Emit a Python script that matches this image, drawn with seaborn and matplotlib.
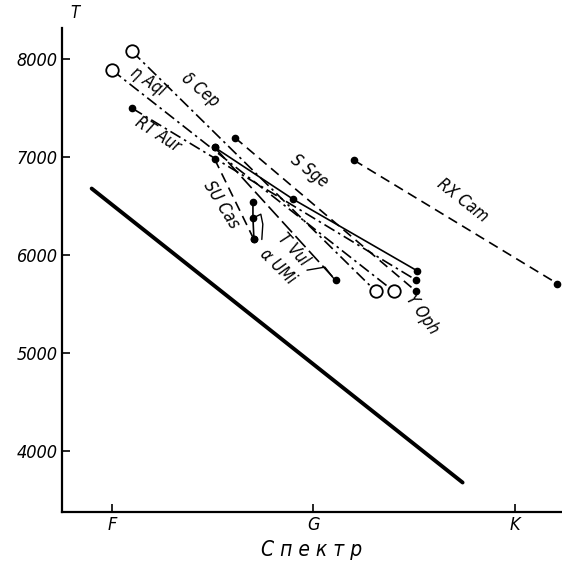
import numpy as np
import pandas as pd
import matplotlib
matplotlib.use("Agg")
import matplotlib.pyplot as plt
import seaborn as sns

# Cepheids: spectral class vs. temperature
# spectral axis: F0 = 0, G0 = 10, K0 = 20 (subclasses)

spec_ticks = [0, 10, 20]
spec_labels = ["F", "G", "K"]
temp_ticks = [4000, 5000, 6000, 7000, 8000]

dcep_sp = [1.0, 13.1]
dcep_T = [8080, 5630]
etaaql_sp = [0.0, 14.0]
etaaql_T = [7890, 5630]
rtaur_sp = [1.0, 15.1]
rtaur_T = [7500, 5745]
ssge_sp = [5.1, 9.0, 15.15]
ssge_T = [7100, 6570, 5840]
yoph_sp = [6.1, 15.1]
yoph_T = [7200, 5630]
tvul_sp = [5.1, 11.1]
tvul_T = [7100, 5745]
sucas_sp = [5.1, 7.05]
sucas_T = [6980, 6160]
aumi_sp = [7.0, 7.0, 7.05]
aumi_T = [6540, 6380, 6160]
rxcam_sp = [12.0, 22.1]
rxcam_T = [6970, 5710]
edge_sp = [-1.0, 17.4]
edge_T = [6680, 3680]

sns.set_style("ticks")
plt.rcParams['font.family'] = ['DejaVu Sans']
plt.rcParams['font.style'] = 'italic'
plt.rcParams['font.stretch'] = 'condensed'
for key in ['text.color', 'axes.labelcolor', 'xtick.color', 'ytick.color', 'axes.edgecolor']:
    plt.rcParams[key] = 'black'

fig = plt.figure(figsize=(5.62, 5.64), dpi=100)
ax = fig.add_axes([0.110, 0.092, 0.890, 0.858])

dashed = (0, (6, 3.5))
dashdot = (0, (7, 2.5, 1.5, 2.5))
longdash = (0, (9, 3))

stars = [
    ("δ Cep", dcep_sp, dcep_T, dashdot, "open"),
    ("η Aql", etaaql_sp, etaaql_T, dashdot, "open"),
    ("RT Aur", rtaur_sp, rtaur_T, dashdot, "fill"),
    ("S Sge", ssge_sp, ssge_T, "-", "fill"),
    ("Y Oph", yoph_sp, yoph_T, dashed, "fill"),
    ("T Vul", tvul_sp, tvul_T, longdash, "fill"),
    ("SU Cas", sucas_sp, sucas_T, dashed, "fill"),
    ("α UMi", aumi_sp, aumi_T, "-", "fill"),
    ("RX Cam", rxcam_sp, rxcam_T, dashed, "fill"),
]

for name, sp, T, ls, mk in stars:
    df = pd.DataFrame({"sp": sp, "T": T})
    sns.lineplot(data=df, x="sp", y="T", ax=ax, color="black", lw=1.2,
                 linestyle=ls, sort=False, estimator=None)
    if mk == "open":
        ax.plot(df["sp"], df["T"], "o", ms=9, mfc="white", mec="black", mew=1.3, zorder=5)
    else:
        ax.plot(df["sp"], df["T"], "o", ms=4.5, color="black", zorder=5)

# thick boundary line
sns.lineplot(x=edge_sp, y=edge_T, ax=ax, color="black", lw=2.8, sort=False, estimator=None)

# leader lines
ax.plot([9.68, 10.57, 11.07], [5847, 5878, 5745], color="black", lw=1.0)
ax.plot([7.0, 7.39, 7.49, 7.44], [6378, 6418, 6316, 6160], color="black", lw=1.0)

# star labels
labels = [
    ("δ Cep", 4.4, 7690, -40),
    ("η Aql", 1.8, 7770, -35),
    ("RT Aur", 2.3, 7230, -33),
    ("S Sge", 9.8, 6860, -38),
    ("SU Cas", 5.4, 6520, -58),
    ("T Vul", 9.0, 6060, -48),
    ("α UMi", 8.2, 5880, -45),
    ("RX Cam", 17.4, 6560, -38),
    ("Y Oph", 15.4, 5400, -55),
]
for txt, x, y, rot in labels:
    ax.text(x, y, txt, rotation=rot, ha="center", va="center", fontsize=12,
            rotation_mode="anchor")

ax.set_xlim(-2.48, 22.33)
ax.set_ylim(3378, 8316)
ax.set_xticks(spec_ticks)
ax.set_xticklabels(spec_labels)
ax.set_yticks(temp_ticks)
ax.set_yticklabels([str(t) for t in temp_ticks])
ax.tick_params(direction="in", length=6, width=1.2, labelsize=13, pad=3)
ax.set_xlabel("С п е к т р", fontsize=15, labelpad=4)
ax.set_ylabel("")
sns.despine(ax=ax)
for s in ["left", "bottom"]:
    ax.spines[s].set_linewidth(1.6)

fig.text(75 / 562, 1 - 13 / 564, "T", fontsize=12, ha="center", va="center")

fig.savefig("out.png", dpi=100)
